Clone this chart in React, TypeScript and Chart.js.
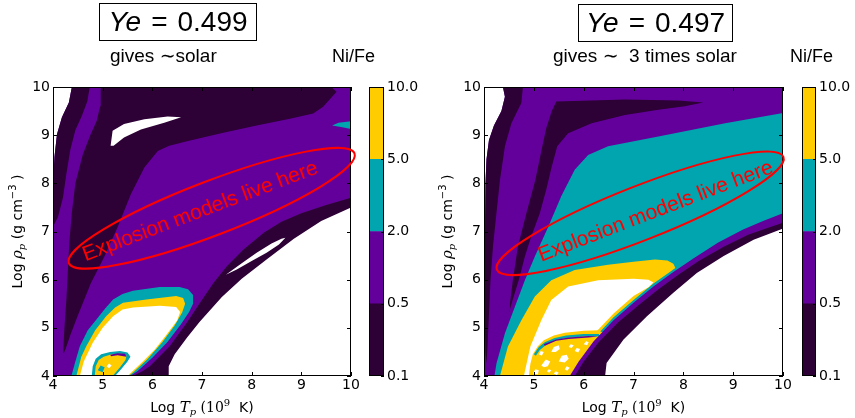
import React, { useEffect, useRef } from 'react';
import { Chart, registerables } from 'chart.js';
Chart.register(...registerables);

type Pt = [number, number];

// ---- axes / colorbar ----
const xTicks = [4, 5, 6, 7, 8, 9, 10];
const yTicks = [4, 5, 6, 7, 8, 9, 10];
const cbarLabels = ['0.1', '0.5', '2.0', '5.0', '10.0'];
const cbarSpans = [1, 1, 1, 1];
const cbarKeys = ['D', 'P', 'T', 'Y'];

const COL: Record<string, string> = { D: '#2d0036', P: '#63009b', T: '#00a5b0', Y: '#ffcc00', W: '#ffffff' };

const FULL: Pt[] = [[4, 4], [10, 4], [10, 10], [4, 10]];

// ---- LEFT panel (Ye = 0.499) contour regions ----
const L_W1: Pt[] = [[4, 10], [4.38, 10], [4.32, 9.68], [4.18, 9.37], [4.08, 9.02], [4.03, 8.55], [4.0, 8.0]];
const L_D1: Pt[] = [[4.38, 10], [4.74, 10], [4.69, 9.7], [4.58, 9.4], [4.45, 9.1], [4.35, 8.7], [4.27, 8.2], [4.2, 7.7], [4.1, 7.3], [4.0, 7.1], [4.0, 8.0], [4.03, 8.55], [4.08, 9.02], [4.18, 9.37], [4.32, 9.68]];
const L_D2: Pt[] = [[4.96, 10], [9.6, 10], [9.71, 9.9], [9.44, 9.59], [9.24, 9.45], [8.77, 9.34], [8.1, 9.2], [7.43, 9.05], [6.76, 8.89], [6.34, 8.78], [6.11, 8.67], [5.84, 8.33], [5.57, 7.78], [5.3, 7.09], [5.03, 6.47], [4.76, 5.92], [4.49, 5.23], [4.35, 4.85], [4.25, 4.55], [4.22, 4.48], [4.21, 4.6], [4.23, 5.0], [4.27, 5.6], [4.3, 6.2], [4.33, 6.8], [4.38, 7.4], [4.45, 8.0], [4.6, 8.6], [4.75, 9.0], [4.88, 9.3], [4.95, 9.6]];
const L_HOLE: Pt[] = [[5.16, 8.78], [5.2, 9.09], [5.43, 9.23], [5.84, 9.33], [6.31, 9.39], [6.58, 9.37], [6.24, 9.26], [5.77, 9.12], [5.43, 8.95], [5.22, 8.78]];
const L_TSLIV: Pt[] = [[9.62, 9.2], [9.75, 9.26], [10, 9.29], [10, 9.13], [9.8, 9.17]];
const L_TEAL: Pt[] = [[4.37, 4], [4.45, 4.3], [4.54, 4.62], [4.7, 4.95], [4.87, 5.17], [5.05, 5.4], [5.21, 5.59], [5.4, 5.7], [5.61, 5.77], [6.15, 5.85], [6.55, 5.85], [6.72, 5.8], [6.82, 5.68], [6.82, 5.5], [6.74, 5.33], [6.58, 5.08], [6.3, 4.7], [6.0, 4.38], [5.7, 4.1], [5.55, 4]];
const L_YEL: Pt[] = [[4.47, 4], [4.57, 4.4], [4.67, 4.62], [4.85, 4.95], [5.07, 5.24], [5.25, 5.42], [5.41, 5.52], [5.88, 5.59], [6.48, 5.66], [6.62, 5.62], [6.66, 5.5], [6.6, 5.32], [6.45, 5.05], [6.2, 4.7], [5.9, 4.35], [5.62, 4.08], [5.52, 4]];
const L_WIN: Pt[] = [[4.54, 4], [4.62, 4.3], [4.8, 4.69], [5.0, 5.0], [5.21, 5.24], [5.4, 5.38], [5.61, 5.42], [6.15, 5.46], [6.48, 5.43], [6.56, 5.33], [6.5, 5.15], [6.28, 4.85], [6.05, 4.55], [5.81, 4.3], [5.58, 4.08], [5.5, 4]];
const L_BLOB_T: Pt[] = [[4.78, 4], [4.8, 4.2], [4.86, 4.36], [4.97, 4.45], [5.15, 4.5], [5.35, 4.52], [5.5, 4.49], [5.56, 4.4], [5.5, 4.3], [5.38, 4.15], [5.25, 4]];
const L_BLOB_Y: Pt[] = [[4.84, 4], [4.86, 4.2], [4.92, 4.33], [5.02, 4.4], [5.18, 4.45], [5.38, 4.46], [5.48, 4.42], [5.46, 4.33], [5.35, 4.18], [5.2, 4]];
const L_BLOB_P: Pt[] = [[5.15, 4.44], [5.3, 4.47], [5.45, 4.46], [5.48, 4.4], [5.42, 4.41], [5.3, 4.43], [5.17, 4.41]];
const L_BLOB_TS: Pt[] = [[4.9, 4.12], [4.96, 4.22], [5.04, 4.18], [5.0, 4.08]];
const L_BLOB_W: Pt[] = [[5.08, 4.2], [5.13, 4.26], [5.18, 4.22], [5.13, 4.16]];
const L_D3: Pt[] = [[5.6, 4], [5.8, 4.1], [5.95, 4.2], [6.35, 4.62], [6.69, 5.1], [6.96, 5.52], [7.23, 5.93], [7.5, 6.28], [7.83, 6.62], [8.25, 6.98], [8.6, 7.2], [9.0, 7.38], [9.5, 7.55], [10, 7.7], [10, 4]];
const L_W2: Pt[] = [[6.32, 4], [6.33, 4.2], [6.45, 4.45], [6.7, 4.8], [6.95, 5.12], [7.4, 5.64], [7.8, 6.02], [8.3, 6.42], [8.85, 6.85], [9.4, 7.22], [10, 7.5], [10, 4]];
const L_WSLIV: Pt[] = [[7.48, 6.1], [7.8, 6.34], [8.1, 6.56], [8.4, 6.75], [8.6, 6.85], [8.68, 6.87], [8.55, 6.73], [8.3, 6.56], [8.0, 6.39], [7.7, 6.21]];

// ---- RIGHT panel (Ye = 0.497) contour regions ----
const R_W1: Pt[] = [[4, 10], [4.38, 10], [4.42, 9.8], [4.35, 9.5], [4.2, 9.2], [4.1, 8.9], [4.05, 8.5], [4.03, 8.0], [4.02, 7.0], [4, 7.0]];
const R_D1: Pt[] = [[4.38, 10], [4.78, 10], [4.75, 9.67], [4.55, 9.25], [4.42, 8.77], [4.32, 8.07], [4.25, 7.38], [4.18, 6.69], [4.13, 5.99], [4.1, 5.3], [4.07, 4.61], [4.05, 4.26], [4.03, 4.5], [4.02, 5.0], [4.02, 6.0], [4.02, 7.0], [4.03, 8.0], [4.05, 8.5], [4.1, 8.9], [4.2, 9.2], [4.35, 9.5], [4.42, 9.8]];
const R_D2: Pt[] = [[5.45, 9.7], [6.83, 9.74], [7.9, 9.72], [8.4, 9.68], [8.03, 9.6], [7.5, 9.53], [6.83, 9.42], [6.16, 9.25], [5.69, 9.04], [5.47, 8.77], [5.36, 8.35], [5.25, 7.87], [5.12, 7.38], [4.95, 6.9], [4.82, 6.48], [4.7, 6.0], [4.58, 5.6], [4.52, 5.38], [4.51, 5.34], [4.52, 5.5], [4.58, 6.0], [4.68, 6.69], [4.85, 7.38], [5.03, 8.07], [5.17, 8.77], [5.25, 9.15], [5.36, 9.5]];
const R_TEAL: Pt[] = [[4.21, 4], [4.25, 4.26], [4.42, 4.89], [4.62, 5.44], [4.82, 5.99], [5.02, 6.48], [5.29, 7.1], [5.55, 7.73], [5.82, 8.28], [6.09, 8.59], [6.49, 8.77], [7.5, 8.97], [8.84, 9.25], [10, 9.46], [10, 4]];
const R_YEL: Pt[] = [[4.32, 4], [4.48, 4.61], [4.75, 5.16], [5.02, 5.65], [5.35, 5.99], [5.82, 6.2], [6.49, 6.31], [7.0, 6.37], [7.43, 6.42], [7.68, 6.4], [7.8, 6.33], [7.84, 6.24], [7.7, 6.14], [7.4, 5.92], [7.0, 5.58], [6.6, 5.22], [6.2, 4.78], [5.9, 4.36], [5.62, 4]];
const R_WIN: Pt[] = [[4.8, 4], [4.93, 4.61], [5.15, 5.16], [5.35, 5.58], [5.69, 5.86], [6.29, 5.99], [7.0, 6.02], [7.3, 6.0], [7.4, 5.94], [7.3, 5.84], [7.0, 5.66], [6.6, 5.3], [6.2, 4.86], [5.9, 4.45], [5.52, 4]];
const R_BLOB_Y: Pt[] = [[4.9, 4], [4.93, 4.25], [4.98, 4.45], [5.08, 4.62], [5.2, 4.74], [5.4, 4.84], [5.62, 4.9], [6.0, 4.94], [6.29, 4.95], [6.42, 4.88], [6.38, 4.76], [6.18, 4.52], [5.98, 4.32], [5.82, 4.14], [5.74, 4]];
const R_BLOB_T: Pt[] = [[5.0, 4.45], [5.1, 4.6], [5.22, 4.7], [5.42, 4.79], [5.65, 4.84], [6.0, 4.87], [6.3, 4.87], [6.33, 4.82], [6.0, 4.82], [5.65, 4.79], [5.44, 4.74], [5.25, 4.65], [5.12, 4.54], [5.04, 4.42]];
const R_BLOB_P: Pt[] = [[5.2, 4.66], [5.45, 4.76], [5.7, 4.8], [6.1, 4.83], [6.28, 4.82], [6.1, 4.8], [5.7, 4.77], [5.45, 4.73], [5.22, 4.63]];
const R_SPECK1: Pt[] = [[4.98, 4.05], [5.03, 4.14], [5.1, 4.12], [5.08, 4.03]];
const R_SPECK2: Pt[] = [[5.15, 4.22], [5.24, 4.34], [5.33, 4.3], [5.28, 4.2], [5.2, 4.18]];
const R_SPECK3: Pt[] = [[5.4, 4.05], [5.44, 4.1], [5.5, 4.07], [5.46, 4.02]];
const R_SPECK4: Pt[] = [[5.5, 4.3], [5.56, 4.42], [5.66, 4.44], [5.7, 4.36], [5.62, 4.28]];
const R_SPECK5: Pt[] = [[5.82, 4.52], [5.86, 4.58], [5.93, 4.56], [5.89, 4.49]];
const R_SPECK6: Pt[] = [[5.1, 4.45], [5.14, 4.52], [5.2, 4.5], [5.16, 4.42]];
const R_SPECK7: Pt[] = [[5.35, 4.5], [5.4, 4.6], [5.5, 4.64], [5.52, 4.56], [5.44, 4.5]];
const R_SPECK8: Pt[] = [[5.26, 4.1], [5.3, 4.14], [5.35, 4.12], [5.31, 4.07]];
const R_SPECK9: Pt[] = [[6.0, 4.66], [6.05, 4.72], [6.1, 4.7], [6.07, 4.64]];
const R_SPECK10: Pt[] = [[5.62, 4.14], [5.66, 4.2], [5.72, 4.17], [5.67, 4.11]];
const R_SPECK11: Pt[] = [[5.7, 4.6], [5.74, 4.66], [5.8, 4.64], [5.76, 4.58]];
const R_PBAND: Pt[] = [[5.72, 4], [5.9, 4.3], [6.2, 4.72], [6.6, 5.16], [7.0, 5.52], [7.4, 5.86], [7.8, 6.16], [8.2, 6.44], [8.7, 6.77], [9.2, 7.04], [9.6, 7.22], [10, 7.38], [10, 4]];
const R_D3: Pt[] = [[5.82, 4], [6.0, 4.3], [6.3, 4.7], [6.7, 5.12], [7.1, 5.47], [7.5, 5.8], [7.9, 6.1], [8.3, 6.38], [8.8, 6.68], [9.3, 6.93], [9.7, 7.08], [10, 7.18], [10, 4]];
const R_W2: Pt[] = [[6.43, 4], [6.46, 4.27], [6.8, 4.76], [7.27, 5.24], [7.8, 5.73], [8.27, 6.14], [8.81, 6.49], [9.41, 6.83], [9.95, 7.04], [10, 7.06], [10, 4]];

const leftLayers: [Pt[], string][] = [
  [FULL, 'P'], [L_W1, 'W'], [L_D1, 'D'], [L_D2, 'D'], [L_HOLE, 'W'], [L_TSLIV, 'T'],
  [L_TEAL, 'T'], [L_YEL, 'Y'], [L_WIN, 'W'], [L_BLOB_T, 'T'], [L_BLOB_Y, 'Y'], [L_BLOB_P, 'P'], [L_BLOB_TS, 'T'], [L_BLOB_W, 'W'],
  [L_D3, 'D'], [L_W2, 'W'], [L_WSLIV, 'W'],
];
const rightLayers: [Pt[], string][] = [
  [FULL, 'P'], [R_W1, 'W'], [R_D1, 'D'], [R_D2, 'D'], [R_TEAL, 'T'], [R_YEL, 'Y'], [R_WIN, 'W'],
  [R_BLOB_Y, 'Y'], [R_BLOB_T, 'T'], [R_BLOB_P, 'P'],
  [R_SPECK1, 'W'], [R_SPECK2, 'W'], [R_SPECK3, 'W'], [R_SPECK4, 'W'], [R_SPECK5, 'W'], [R_SPECK6, 'W'],
  [R_SPECK7, 'W'], [R_SPECK8, 'W'], [R_SPECK9, 'W'], [R_SPECK10, 'W'], [R_SPECK11, 'W'],
  [R_PBAND, 'P'], [R_D3, 'D'], [R_W2, 'W'],
];

// polygon -> point list usable by the 'shape' filler (start at leftmost, end at rightmost x)
function toShape(points: Pt[]) {
  let li = 0;
  let maxX = -Infinity;
  points.forEach((p, i) => {
    if (p[0] < points[li][0]) li = i;
    if (p[0] > maxX) maxX = p[0];
  });
  const rot = points.slice(li).concat(points.slice(0, li));
  const pts = rot.map(([x, y]) => ({ x, y }));
  pts.push({ x: rot[0][0], y: rot[0][1] });
  pts.push({ x: maxX, y: rot[0][1] });
  return pts;
}

type Part = { t: string; f: string; dy?: number };
function drawRich(ctx: CanvasRenderingContext2D, parts: Part[], x: number, y: number, rot: number) {
  ctx.save();
  ctx.translate(x, y);
  if (rot) ctx.rotate(rot);
  const widths = parts.map((p) => { ctx.font = p.f; return ctx.measureText(p.t).width; });
  const total = widths.reduce((a, b) => a + b, 0);
  let cx = -total / 2;
  ctx.textAlign = 'left';
  ctx.textBaseline = 'alphabetic';
  ctx.fillStyle = '#000';
  parts.forEach((p, i) => { ctx.font = p.f; ctx.fillText(p.t, cx, p.dy || 0); cx += widths[i]; });
  ctx.restore();
}

const SANS = '"DejaVu Sans"';
const SERIF = '"DejaVu Serif"';
const xTitle: Part[] = [
  { t: 'Log ', f: `14px ${SANS}` }, { t: 'T', f: `italic 15px ${SERIF}` }, { t: 'p', f: `italic 10px ${SERIF}`, dy: 3 },
  { t: ' (10', f: `14px ${SERIF}` }, { t: '9', f: `10px ${SERIF}`, dy: -6 }, { t: '  K)', f: `14px ${SANS}` },
];
const yTitle: Part[] = [
  { t: 'Log ', f: `14px ${SANS}` }, { t: 'ρ', f: `italic 15px ${SERIF}` }, { t: 'p', f: `italic 10px ${SERIF}`, dy: 3 },
  { t: ' (g cm', f: `14px ${SANS}` }, { t: '−3', f: `10px ${SANS}`, dy: -6 }, { t: ' )', f: `14px ${SANS}` },
];

type PanelCfg = {
  padRight: number; yWidth: number;
  ell: { x: number; y: number; a: number; b: number; rot: number };
  txt: { x: number; y: number; rot: number };
};

function panelPlugin(cfg: PanelCfg) {
  return {
    id: 'panelDeco',
    afterDatasetsDraw(chart: any) {
      const { ctx, chartArea: a, scales } = chart;
      const xs = scales.x;
      const ys = scales.y;
      ctx.save();
      ctx.strokeStyle = '#000';
      ctx.lineWidth = 1;
      ctx.strokeRect(a.left + 0.5, a.top + 0.5, a.right - a.left - 1, a.bottom - a.top - 1);
      ctx.beginPath();
      xTicks.forEach((v) => {
        const px = Math.round(xs.getPixelForValue(v)) + 0.5;
        ctx.moveTo(px, a.bottom); ctx.lineTo(px, a.bottom - 4);
        ctx.moveTo(px, a.top); ctx.lineTo(px, a.top + 4);
      });
      yTicks.forEach((v) => {
        const py = Math.round(ys.getPixelForValue(v)) + 0.5;
        ctx.moveTo(a.left, py); ctx.lineTo(a.left + 4, py);
        ctx.moveTo(a.right, py); ctx.lineTo(a.right - 4, py);
      });
      ctx.stroke();
      // red ellipse annotation
      const ex = xs.getPixelForValue(cfg.ell.x);
      const ey = ys.getPixelForValue(cfg.ell.y);
      ctx.beginPath();
      ctx.ellipse(ex, ey, cfg.ell.a, cfg.ell.b, (cfg.ell.rot * Math.PI) / 180, 0, Math.PI * 2);
      ctx.strokeStyle = '#ff0000';
      ctx.lineWidth = 2;
      ctx.stroke();
      const tx = xs.getPixelForValue(cfg.txt.x);
      const ty = ys.getPixelForValue(cfg.txt.y);
      ctx.translate(tx, ty);
      ctx.rotate((cfg.txt.rot * Math.PI) / 180);
      ctx.font = '21px "Liberation Sans"';
      ctx.fillStyle = '#ff0000';
      ctx.textAlign = 'center';
      ctx.textBaseline = 'middle';
      ctx.fillText('Explosion models live here', 0, 0);
      ctx.restore();
      drawRich(ctx, xTitle, (a.left + a.right) / 2, 412, 0);
      drawRich(ctx, yTitle, 22, (a.top + a.bottom) / 2, -Math.PI / 2);
    },
  };
}

function makePanel(canvas: HTMLCanvasElement, layers: [Pt[], string][], cfg: PanelCfg) {
  const datasets = layers.map(([pts, c]) => ({
    data: toShape(pts),
    fill: 'shape',
    backgroundColor: COL[c],
    borderColor: 'rgba(0,0,0,0)',
    borderWidth: 0,
    pointRadius: 0,
    pointHoverRadius: 0,
    pointHitRadius: 0,
    showLine: true,
    tension: 0,
  })).reverse();
  const tickFont = { family: 'DejaVu Sans', size: 14 };
  return new Chart(canvas, {
    type: 'line',
    data: { datasets: datasets as any },
    options: {
      animation: false,
      responsive: false,
      events: [],
      layout: { padding: { top: 87, right: cfg.padRight, bottom: 0, left: 0 } },
      plugins: { legend: { display: false }, tooltip: { enabled: false } },
      scales: {
        x: {
          type: 'linear', min: 4, max: 10,
          afterBuildTicks: (s: any) => { s.ticks = xTicks.map((v) => ({ value: v })); },
          ticks: { autoSkip: false, maxRotation: 0, color: '#000', font: tickFont, padding: 1 },
          grid: { display: false, drawTicks: false }, border: { display: false },
          afterFit: (s: any) => { s.height = 42; },
        },
        y: {
          type: 'linear', min: 4, max: 10,
          afterBuildTicks: (s: any) => { s.ticks = yTicks.map((v) => ({ value: v })); },
          ticks: { autoSkip: false, color: '#000', font: tickFont, padding: 3 },
          grid: { display: false, drawTicks: false }, border: { display: false },
          afterFit: (s: any) => { s.width = cfg.yWidth; },
        },
      },
    } as any,
    plugins: [panelPlugin(cfg)],
  });
}

const cbarPlugin = {
  id: 'cbarDeco',
  afterDatasetsDraw(chart: any) {
    const { ctx, chartArea: a, scales } = chart;
    ctx.save();
    ctx.strokeStyle = '#000';
    ctx.lineWidth = 1;
    ctx.strokeRect(a.left + 0.5, a.top + 0.5, a.right - a.left - 1, a.bottom - a.top - 1);
    ctx.beginPath();
    cbarLabels.forEach((_, i) => {
      const py = Math.round(scales.y.getPixelForValue(i)) + 0.5;
      ctx.moveTo(a.right, py); ctx.lineTo(a.right - 3, py);
    });
    ctx.stroke();
    ctx.restore();
  },
};

function makeCbar(canvas: HTMLCanvasElement, padLeft: number, yWidth: number) {
  return new Chart(canvas, {
    type: 'bar',
    data: {
      labels: [''],
      datasets: cbarSpans.map((v, i) => ({
        data: [v], backgroundColor: COL[cbarKeys[i]], borderWidth: 0, barPercentage: 1, categoryPercentage: 1,
      })),
    },
    options: {
      animation: false,
      responsive: false,
      events: [],
      layout: { padding: { top: 87, bottom: 42, left: padLeft, right: 0 } },
      plugins: { legend: { display: false }, tooltip: { enabled: false } },
      scales: {
        x: { display: false, stacked: true },
        y: {
          stacked: true, position: 'right', min: 0, max: cbarSpans.length,
          afterBuildTicks: (s: any) => { s.ticks = cbarLabels.map((_, i) => ({ value: i })); },
          ticks: { callback: (v: any) => cbarLabels[v], color: '#000', font: { family: 'DejaVu Sans', size: 14 }, padding: 3, autoSkip: false },
          grid: { display: false, drawTicks: false }, border: { display: false },
          afterFit: (s: any) => { s.width = yWidth; },
        },
      },
    } as any,
    plugins: [cbarPlugin],
  });
}

const leftCfg: PanelCfg = {
  padRight: 14, yWidth: 53,
  ell: { x: 7.195, y: 7.483, a: 153, b: 27, rot: -21 },
  txt: { x: 6.965, y: 7.413, rot: -20.7 },
};
const rightCfg: PanelCfg = {
  padRight: 12, yWidth: 54,
  ell: { x: 7.133, y: 7.378, a: 154, b: 27, rot: -21.5 },
  txt: { x: 7.445, y: 7.413, rot: -21 },
};

const LATEX = '"Liberation Sans", "DejaVu Sans", sans-serif';

export default function App() {
  const c1 = useRef<HTMLCanvasElement>(null);
  const c2 = useRef<HTMLCanvasElement>(null);
  const c3 = useRef<HTMLCanvasElement>(null);
  const c4 = useRef<HTMLCanvasElement>(null);
  useEffect(() => {
    const charts = [
      makePanel(c1.current!, leftLayers, leftCfg),
      makeCbar(c2.current!, 9, 36),
      makePanel(c3.current!, rightLayers, rightCfg),
      makeCbar(c4.current!, 10, 39),
    ];
    return () => charts.forEach((c) => c.destroy());
  }, []);
  const boxStyle = (left: number, top: number, width: number, height: number): React.CSSProperties => ({
    position: 'absolute', left, top, width, height, boxSizing: 'border-box', border: '1.5px solid #000',
    display: 'flex', alignItems: 'center', justifyContent: 'center', fontFamily: LATEX, fontSize: 28, color: '#000', whiteSpace: 'nowrap',
  });
  const lab = (left: number, top: number, size: number): React.CSSProperties => ({
    position: 'absolute', left, top, fontFamily: LATEX, fontSize: size, lineHeight: `${size}px`, color: '#000', whiteSpace: 'pre',
  });
  return (
    <div style={{ position: 'absolute', left: 0, top: 0, width: 855, height: 418, background: '#fff', overflow: 'hidden' }}>
      <canvas ref={c1} width={365} height={418} style={{ position: 'absolute', left: 0, top: 0 }} />
      <canvas ref={c2} width={60} height={418} style={{ position: 'absolute', left: 360, top: 0 }} />
      <canvas ref={c3} width={365} height={418} style={{ position: 'absolute', left: 430, top: 0 }} />
      <canvas ref={c4} width={63} height={418} style={{ position: 'absolute', left: 792, top: 0 }} />
      <div style={boxStyle(99, 3, 158, 38)}>
        <span><i>Ye</i><span style={{ margin: '0 10px' }}>=</span>0.499</span>
      </div>
      <div style={boxStyle(578, 4, 155, 38)}>
        <span><i>Ye</i><span style={{ margin: '0 10px' }}>=</span>0.497</span>
      </div>
      <div style={lab(110, 46, 19)}>gives ∼solar</div>
      <div style={lab(332, 47, 18)}>Ni/Fe</div>
      <div style={lab(553, 46, 19)}>gives ∼  3 times solar</div>
      <div style={lab(790, 47, 18)}>Ni/Fe</div>
    </div>
  );
}
